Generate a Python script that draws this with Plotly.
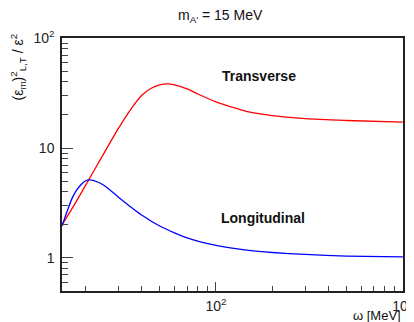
import plotly.graph_objects as go

# Data (omega in MeV)
omega_T = [15, 17, 20, 25, 30, 35, 40, 45, 50, 55, 60, 70, 80, 100, 130, 150, 200, 300, 500, 1000]
eps_T = [2.0, 2.82, 4.54, 8.8, 15.0, 22.5, 30.0, 35.0, 37.6, 38.3, 37.6, 34.5, 31.0, 26.3, 22.8, 21.3, 19.7, 18.5, 17.8, 17.2]

omega_L = [15, 16, 17, 18, 19, 20, 21, 22, 25, 30, 35, 40, 50, 60, 70, 100, 150, 200, 300, 500, 1000]
eps_L = [1.95, 2.67, 3.5, 4.15, 4.66, 5.01, 5.12, 5.07, 4.61, 3.59, 2.91, 2.46, 1.95, 1.69, 1.52, 1.30, 1.17, 1.12, 1.076, 1.04, 1.02]

x_major = [100, 1000]
x_major_text = ["10<sup>2</sup>", "10<sup>3</sup>"]
x_minor = [20, 30, 40, 50, 60, 70, 80, 90, 200, 300, 400, 500, 600, 700, 800, 900]
y_major = [1, 10, 100]
y_major_text = ["1", "10", "10<sup>2</sup>"]
y_minor = [0.5, 0.6, 0.7, 0.8, 0.9, 2, 3, 4, 5, 6, 7, 8, 9, 20, 30, 40, 50, 60, 70, 80, 90]

FONT = "Liberation Sans, Arial, sans-serif"

fig = go.Figure()
fig.add_trace(go.Scatter(x=omega_T, y=eps_T, mode="lines",
                         line=dict(color="#ff0000", width=1.3, shape="spline", smoothing=0.8),
                         showlegend=False))
fig.add_trace(go.Scatter(x=omega_L, y=eps_L, mode="lines",
                         line=dict(color="#0000ff", width=1.3, shape="spline", smoothing=0.6),
                         showlegend=False))

axis_common = dict(
    type="log", showgrid=False, zeroline=False, automargin=False,
    showline=True, linecolor="#222", linewidth=1.5, mirror=True,
    ticks="inside", tickcolor="#444", tickwidth=1,
    tickmode="array",
    tickfont=dict(family=FONT, size=14, color="#222"),
)

fig.update_xaxes(**axis_common,
                 range=[1.1761, 3.0008],
                 tickvals=x_major, ticktext=x_major_text, ticklen=9,
                 ticklabelstandoff=1,
                 minor=dict(tickmode="array", tickvals=x_minor, ticks="inside",
                            ticklen=5, tickcolor="#444", tickwidth=1))
fig.update_yaxes(**axis_common,
                 range=[-0.301, 2.0008],
                 tickvals=y_major, ticktext=y_major_text, ticklen=11,
                 ticklabelstandoff=3,
                 minor=dict(tickmode="array", tickvals=y_minor, ticks="inside",
                            ticklen=6, tickcolor="#444", tickwidth=1))

# page body has an 8px margin, so the figure is offset by (8, 8)
fig.update_layout(
    width=406, height=314,
    margin=dict(l=54, r=11, t=30, b=31),
    paper_bgcolor="white", plot_bgcolor="white",
    font=dict(family=FONT, color="#111"),
    annotations=[
        dict(text="m<sub>A'</sub> = 15 MeV", xref="paper", yref="paper",
             x=(220 - 62) / 341, y=1 + 22 / 253, xanchor="center", yanchor="middle",
             showarrow=False, font=dict(family=FONT, size=14, color="#111")),
        dict(text="(ε<sub>m</sub>)<sup>2</sup><sub>L,T</sub> / ε<sup>2</sup>",
             xref="paper", yref="paper",
             x=-(62 - 19) / 341, y=1 + 6 / 253, xanchor="center", yanchor="top",
             textangle=-90, showarrow=False,
             font=dict(family=FONT, size=14, color="#111")),
        dict(text="ω [MeV]", xref="paper", yref="paper",
             x=1.0, y=-(315 - 291) / 253, xanchor="right", yanchor="middle",
             showarrow=False, font=dict(family=FONT, size=13, color="#111")),
        dict(text="<b>Transverse</b>", xref="paper", yref="paper",
             x=(259 - 62) / 341, y=(291 - 76) / 253, xanchor="center", yanchor="middle",
             showarrow=False, font=dict(family=FONT, size=14, color="#111")),
        dict(text="<b>Longitudinal</b>", xref="paper", yref="paper",
             x=(263 - 62) / 341, y=(291 - 218) / 253, xanchor="center", yanchor="middle",
             showarrow=False, font=dict(family=FONT, size=14, color="#111")),
    ],
)

fig.write_html("out.html")
